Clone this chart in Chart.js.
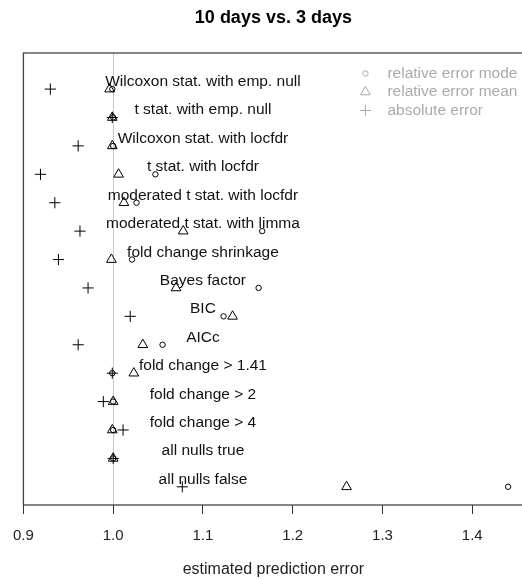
<!DOCTYPE html>
<html>
<head>
<meta charset="utf-8">
<script src="https://cdn.jsdelivr.net/npm/chart.js@4"></script>
<style>
html, body { margin: 0; padding: 0; background: #fff; overflow: hidden; }
#wrap { width: 522px; height: 579px; overflow: hidden; }
</style>
</head>
<body>
<div id="wrap"><canvas id="errChart" width="530" height="579"></canvas></div>
<script>
// chart data
const chartTitle = '10 days vs. 3 days';
const xTitle = 'estimated prediction error';
const methods = [
    'Wilcoxon stat. with emp. null',
    't stat. with emp. null',
    'Wilcoxon stat. with locfdr',
    't stat. with locfdr',
    'moderated t stat. with locfdr',
    'moderated t stat. with limma',
    'fold change shrinkage',
    'Bayes factor',
    'BIC',
    'AICc',
    'fold change > 1.41',
    'fold change > 2',
    'fold change > 4',
    'all nulls true',
    'all nulls false'
];
const rows = [1, 2, 3, 4, 5, 6, 7, 8, 9, 10, 11, 12, 13, 14, 15];
const relErrMode = [0.999, 1.000, 1.000, 1.047, 1.026, 1.166, 1.021, 1.162, 1.123, 1.055, 0.999, 1.000, 1.000, 1.000, 1.440];
const relErrMean = [0.996, 0.999, 0.999, 1.006, 1.012, 1.078, 0.998, 1.070, 1.133, 1.033, 1.023, 1.000, 0.999, 1.000, 1.260];
const absErr     = [0.930, 0.999, 0.961, 0.919, 0.935, 0.963, 0.939, 0.972, 1.019, 0.961, 0.999, 0.989, 1.011, 1.000, 1.077];
const xTicks = [0.9, 1.0, 1.1, 1.2, 1.3, 1.4];
const legendLabels = ['relative error mode', 'relative error mean', 'absolute error'];
const legendStyles = ['circle', 'triangle', 'cross'];

const FONT = "'Liberation Sans', Arial, sans-serif";
const pointSizes = { circle: 2.7, triangle: 5.6, cross: 5.6 };

const toPoints = (vals) => vals.map((v, i) => ({ x: v, y: rows[i] }));

const makeSet = (label, vals, style) => ({
    label: label,
    data: toPoints(vals),
    pointStyle: style,
    pointRadius: pointSizes[style],
    pointHoverRadius: pointSizes[style],
    pointBorderColor: '#000',
    pointBackgroundColor: 'rgba(0,0,0,0)',
    pointBorderWidth: 1,
    showLine: false
});

// 라벨, 박스, 범례 그리기
const decorPlugin = {
    id: 'decor',
    beforeDatasetsDraw(chart) {
        const { ctx, scales } = chart;
        ctx.save();
        ctx.font = '15.5px ' + FONT;
        ctx.fillStyle = '#111';
        ctx.textAlign = 'center';
        ctx.textBaseline = 'alphabetic';
        const lx = scales.x.getPixelForValue(1.1);
        methods.forEach((m, i) => {
            ctx.fillText(m, lx, scales.y.getPixelForValue(rows[i]) - 3);
        });
        ctx.restore();
    },
    afterDraw(chart) {
        const { ctx, chartArea: a } = chart;
        ctx.save();
        ctx.strokeStyle = '#444';
        ctx.lineWidth = 1.3;
        ctx.strokeRect(a.left, a.top, a.right - a.left, a.bottom - a.top);

        // legend (top right, gray)
        ctx.font = '15.5px ' + FONT;
        ctx.textAlign = 'left';
        ctx.textBaseline = 'middle';
        legendLabels.forEach((lab, i) => {
            const y = a.top + 20.5 + i * 18.5;
            ctx.strokeStyle = '#aaa';
            ctx.fillStyle = 'rgba(0,0,0,0)';
            ctx.lineWidth = 1;
            Chart.helpers.drawPoint(ctx, {
                pointStyle: legendStyles[i],
                radius: pointSizes[legendStyles[i]],
                borderWidth: 1,
                rotation: 0
            }, a.right - 158, y);
            ctx.fillStyle = '#aaa';
            ctx.fillText(lab, a.right - 136, y);
        });
        ctx.restore();
    }
};

new Chart(document.getElementById('errChart'), {
    type: 'scatter',
    data: {
        datasets: [
            makeSet('relative error mode', relErrMode, 'circle'),
            makeSet('relative error mean', relErrMean, 'triangle'),
            makeSet('absolute error', absErr, 'cross')
        ]
    },
    options: {
        responsive: false,
        animation: false,
        events: [],
        layout: { padding: { left: 22, right: 0, top: 0, bottom: 0 } },
        plugins: {
            legend: { display: false },
            tooltip: { enabled: false },
            title: { display: false }
        },
        scales: {
            x: {
                type: 'linear',
                position: 'bottom',
                min: 0.9,
                max: 1.457,
                afterBuildTicks: (axis) => {
                    axis.ticks = xTicks.map(v => ({ value: v }));
                },
                ticks: {
                    callback: (v) => Number(v).toFixed(1),
                    font: { family: FONT, size: 15 },
                    color: '#222',
                    padding: 13,
                    maxRotation: 0,
                    minRotation: 0
                },
                grid: {
                    drawOnChartArea: true,
                    drawTicks: true,
                    tickLength: 9,
                    tickColor: '#333',
                    tickWidth: 1,
                    lineWidth: 1,
                    color: (c) => (c.tick && Math.abs(c.tick.value - 1) < 1e-9) ? '#c8c8c8' : 'rgba(0,0,0,0)'
                },
                border: { display: false },
                title: {
                    display: true,
                    text: xTitle,
                    font: { family: FONT, size: 16 },
                    color: '#222',
                    padding: { top: 1.8, bottom: 0 }
                }
            },
            x2: {
                type: 'linear',
                position: 'top',
                display: true,
                ticks: { display: false },
                grid: { display: false, drawTicks: false },
                border: { display: false },
                title: {
                    display: true,
                    text: chartTitle,
                    font: { family: FONT, size: 18, weight: 'bold' },
                    color: '#000',
                    padding: { top: 7, bottom: 24.4 }
                }
            },
            y: {
                type: 'linear',
                display: false,
                reverse: true,
                min: -0.27,
                max: 15.64
            }
        }
    },
    plugins: [decorPlugin]
});
</script>
</body>
</html>
